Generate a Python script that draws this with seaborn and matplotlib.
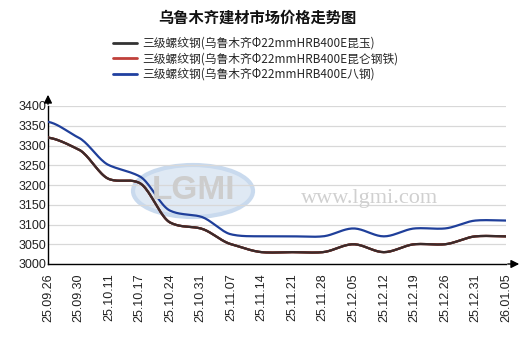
import numpy as np
import pandas as pd
import matplotlib
matplotlib.use("Agg")
import matplotlib.pyplot as plt
import seaborn as sns
from matplotlib.patches import Ellipse

dates = ["25.09.26", "25.09.30", "25.10.11", "25.10.17", "25.10.24", "25.10.31",
         "25.11.07", "25.11.14", "25.11.21", "25.11.28", "25.12.05", "25.12.12",
         "25.12.19", "25.12.26", "25.12.31", "26.01.05"]
kunyu = [3320, 3290, 3215, 3205, 3105, 3090, 3050, 3030, 3030, 3030, 3050, 3030,
         3050, 3050, 3070, 3070]
kunlun = [3320, 3290, 3215, 3205, 3105, 3090, 3050, 3030, 3030, 3030, 3050, 3030,
          3050, 3050, 3070, 3070]
bayi = [3360, 3320, 3250, 3222, 3135, 3120, 3075, 3070, 3070, 3070, 3090, 3070,
        3090, 3090, 3110, 3110]
series_names = ["三级螺纹钢(乌鲁木齐Φ22mmHRB400E昆玉)",
                "三级螺纹钢(乌鲁木齐Φ22mmHRB400E昆仑钢铁)",
                "三级螺纹钢(乌鲁木齐Φ22mmHRB400E八钢)"]
colors = ["#3a2b2b", "#c0392b", "#1f3f9a"]
title = "乌鲁木齐建材市场价格走势图"
yticks = [3000, 3050, 3100, 3150, 3200, 3250, 3300, 3350, 3400]

sns.set_theme(style="white")
plt.rcParams['font.family'] = ['Liberation Sans', 'Noto Sans CJK SC', 'DejaVu Sans']
cjk = ['Noto Sans CJK SC', 'DejaVu Sans']


def smooth(y, n=20, tension=0.35):
    # cardinal-spline rendering of the curve through the data points
    y = np.asarray(y, float)
    p = np.concatenate([[y[0]], y, [y[-1]]])
    xs, ys = [], []
    for i in range(len(y) - 1):
        p0, p1, p2, p3 = p[i], p[i + 1], p[i + 2], p[i + 3]
        m1 = tension * (p2 - p0)
        m2 = tension * (p3 - p1)
        t = np.linspace(0, 1, n, endpoint=False)
        h00 = 2 * t ** 3 - 3 * t ** 2 + 1
        h10 = t ** 3 - 2 * t ** 2 + t
        h01 = -2 * t ** 3 + 3 * t ** 2
        h11 = t ** 3 - t ** 2
        xs.append(i + t)
        ys.append(h00 * p1 + h10 * m1 + h01 * p2 + h11 * m2)
    xs.append([len(y) - 1])
    ys.append([y[-1]])
    return np.concatenate(xs), np.concatenate(ys)


fig = plt.figure(figsize=(5.32, 3.43), dpi=100)
ax = fig.add_axes([48 / 532, 1 - 264 / 343, 458 / 532, (264 - 106) / 343])

# watermark
ax.add_patch(Ellipse((193, 343 - 191), 120, 52, transform=None, facecolor="#dfe9f4",
                     edgecolor="#c9daee", linewidth=3, zorder=0))
fig.text(193 / 532, 1 - 190 / 343, "LGMI", ha="center", va="center", fontsize=24,
         fontweight="bold", color="#cdcdcd", zorder=0.5, family="Liberation Sans")
fig.text(370 / 532, 1 - 198 / 343, "www.lgmi.com", ha="center", va="center",
         fontsize=16, color="#d0d0d0", family="Liberation Serif", zorder=0.5)

for vals, name, c in zip([kunyu, kunlun, bayi], series_names, colors):
    sx, sy = smooth(vals)
    df = pd.DataFrame({"x": sx, "y": sy})
    sns.lineplot(data=df, x="x", y="y", ax=ax, color=c, linewidth=1.6, label=name,
                 legend=False, zorder=3)
# first series on top (covers the identical red one)
sx, sy = smooth(kunyu)
sns.lineplot(x=sx, y=sy, ax=ax, color=colors[0], linewidth=1.6, legend=False, zorder=4)

ax.set_xlim(0, len(dates) - 1)
ax.set_ylim(3000, 3400)
ax.set_yticks(yticks)
ax.set_yticklabels([str(v) for v in yticks], fontsize=9, color="#222222")
ax.set_xticks(range(len(dates)))
ax.set_xticklabels(dates, rotation=90, fontsize=9, color="#222222")
ax.tick_params(axis="x", length=3, width=0.6, color="#888888", pad=4, direction="out")
ax.tick_params(axis="y", length=0, pad=1)
ax.grid(axis="y", color="#d8d8d8", linewidth=0.9)
ax.grid(axis="x", visible=False)
ax.set_xlabel("")
ax.set_ylabel("")
for s in ["top", "right"]:
    ax.spines[s].set_visible(False)
for s in ["left", "bottom"]:
    ax.spines[s].set_color("black")
    ax.spines[s].set_linewidth(1.0)

# axis arrows
ax.annotate("", xy=(48 / 532, 1 - 92 / 343), xytext=(48 / 532, 1 - 107 / 343),
            xycoords="figure fraction",
            arrowprops=dict(arrowstyle="-|>", color="black", lw=1, mutation_scale=12))
ax.annotate("", xy=(522 / 532, 1 - 264 / 343), xytext=(505 / 532, 1 - 264 / 343),
            xycoords="figure fraction",
            arrowprops=dict(arrowstyle="-|>", color="black", lw=1, mutation_scale=12))

fig.text(257 / 532, 1 - 18 / 343, title, ha="center", va="center", fontsize=11,
         fontweight="bold", family=cjk, color="#111111")

handles = [plt.Line2D([0], [0], color=c, lw=2) for c in ["#333333", "#c0403a", "#2040a0"]]
fig.legend(handles, series_names, loc="upper left",
           bbox_to_anchor=(113 / 532, 1 - 37 / 343), frameon=False,
           prop={"family": cjk, "size": 8.5}, handlelength=2.0, handletextpad=0.45,
           labelspacing=0.2, borderpad=0, borderaxespad=0)

fig.savefig("out.png", dpi=100, facecolor="white")
